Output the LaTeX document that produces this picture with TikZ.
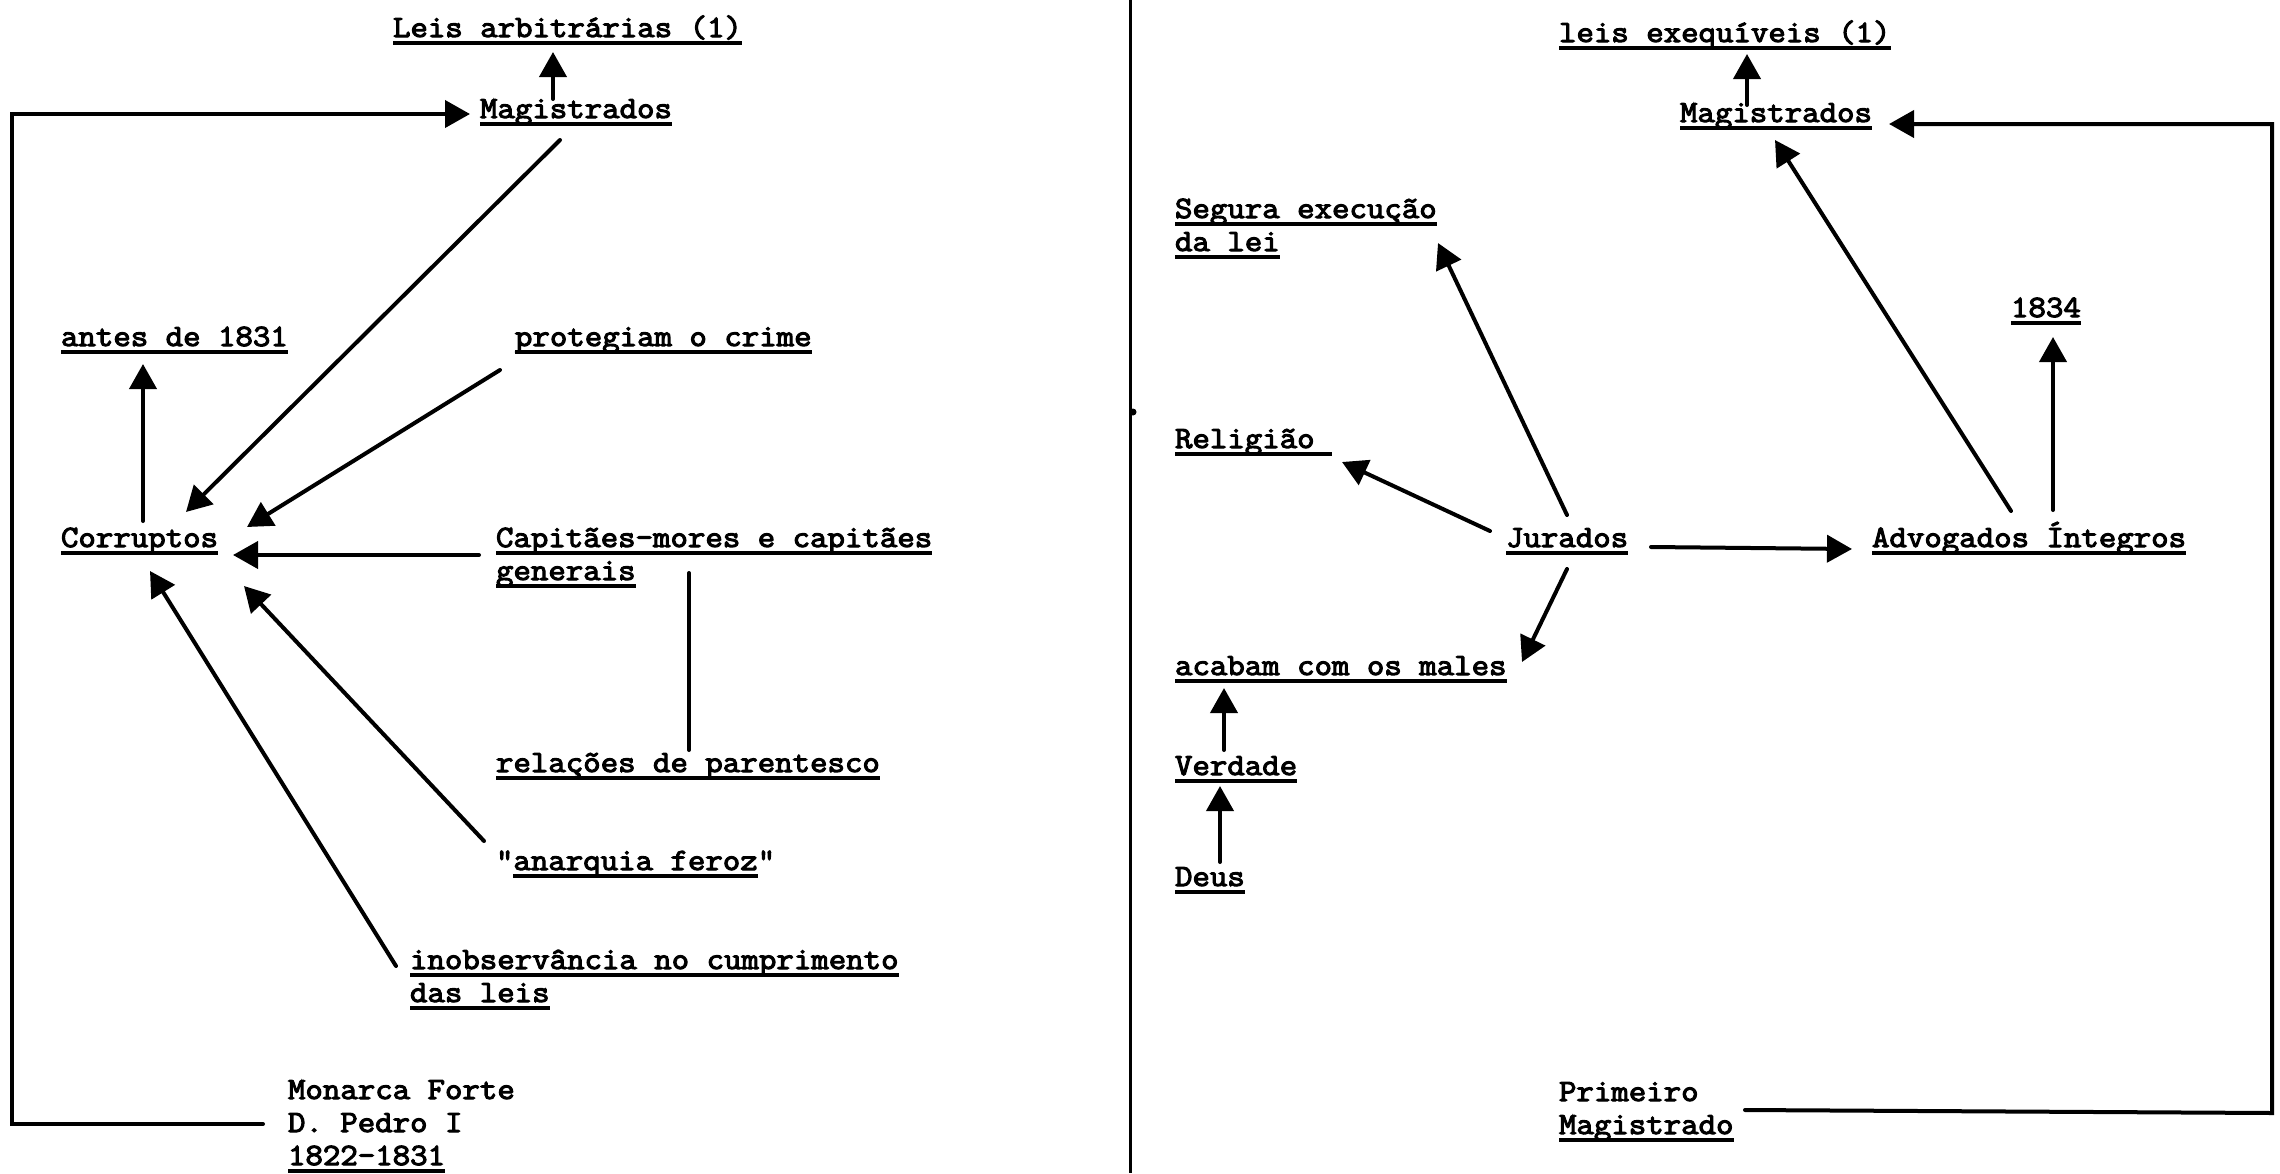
\documentclass[tikz,border=0pt]{standalone}
\usepackage{fontspec}
\newfontfamily\twfont{Latin Modern Mono}[FakeStretch=1.093,FakeBold=3.5]
\usetikzlibrary{arrows.meta}
\newcommand\myul[1]{\setbox0\hbox{#1}\rlap{\rule[-8pt]{\wd0}{4pt}}\box0}
\newcommand\twolines[2]{\vtop{\baselineskip=33pt\lineskiplimit=-100pt\hbox{#1}\hbox{#2}}}
\newcommand\threelines[3]{\vtop{\baselineskip=33pt\lineskiplimit=-100pt\hbox{#1}\hbox{#2}\hbox{#3}}}
\begin{document}
\begin{tikzpicture}[x=1pt,y=-1pt,
  lbl/.style={anchor=base west,inner sep=0pt,outer sep=0pt,font=\twfont\fontsize{31pt}{33pt}\selectfont},
  arr/.style={line width=4pt,line cap=round,-{Triangle[length=25pt,width=27pt]}},
  ln/.style={line width=4pt,line cap=round}]
\useasboundingbox (0,0) rectangle (2280,1173);

% left panel
\node[lbl] (leisA) at (393,37) {\myul{Leis arbitrárias (1)}};
\node[lbl] (magL) at (480,118) {\myul{Magistrados}};
\node[lbl] (antes) at (61,346) {\myul{antes de 1831}};
\node[lbl] (prot) at (515,346) {\myul{protegiam o crime}};
\node[lbl] (corr) at (61,547) {\myul{Corruptos}};
\node[lbl] (capit) at (496,547) {\twolines{\myul{Capitães-mores e capitães}}{\myul{generais}}};
\node[lbl] (rel) at (496,772) {\myul{relações de parentesco}};
\node[lbl] (anar) at (496,870) {"\myul{anarquia feroz}"};
\node[lbl] (inob) at (410,969) {\twolines{\myul{inobservância no cumprimento}}{\myul{das leis}}};
\node[lbl] (mon) at (288,1099) {\threelines{Monarca Forte}{D. Pedro I}{\myul{1822-1831}}};

% right panel
\node[lbl] (leisE) at (1559,42) {\myul{leis exequíveis (1)}};
\node[lbl] (magR) at (1680,122) {\myul{Magistrados}};
\node[lbl] (seg) at (1175,218) {\twolines{\myul{Segura execução}}{\myul{da lei}}};
\node[lbl] (n1834) at (2011,317) {\myul{1834}};
\node[lbl] (relig) at (1175,448) {\myul{Religião\ }};
\node[lbl] (jur) at (1506,547) {\myul{Jurados}};
\node[lbl] (adv) at (1872,547) {\myul{Advogados Íntegros}};
\node[lbl] (acab) at (1175,675) {\myul{acabam com os males}};
\node[lbl] (verd) at (1175,775) {\myul{Verdade}};
\node[lbl] (deus) at (1175,886) {\myul{Deus}};
\node[lbl] (prim) at (1559,1101) {\twolines{Primeiro}{\myul{Magistrado}}};

% divider
\draw[line width=3pt] (1130,0) -- (1130,1173);
\fill (1133,412) circle (3.5);

% left connectors
\draw[arr] ([shift={(73,-19)}]magL.base west) -- ([shift={(160,15)}]leisA.base west);
\draw[arr] ([shift={(-25,25)}]mon.base west) -- ++(-251,0) |- ([shift={(-10,-4)}]magL.base west);
\draw[arr] ([shift={(80,22)}]magL.base west) -- ([shift={(125,-35)}]corr.base west);
\draw[arr] ([shift={(82,-26)}]corr.base west) -- ([shift={(82,18)}]antes.base west);
\draw[arr] ([shift={(-15,24)}]prot.base west) -- ([shift={(186,-20)}]corr.base west);
\draw[arr] ([shift={(-17,8)}]capit.base west) -- ([shift={(172,8)}]corr.base west);
\draw[ln] ([shift={(193,-22)}]rel.base west) -- ([shift={(193,26)}]capit.base west);
\draw[arr] ([shift={(-12,-29)}]anar.base west) -- ([shift={(183,39)}]corr.base west);
\draw[arr] ([shift={(-14,-3)}]inob.base west) -- ([shift={(89,24)}]corr.base west);

% right connectors
\draw[arr] ([shift={(67,-17)}]magR.base west) -- ([shift={(188,12)}]leisE.base west);
\draw[arr] ([shift={(186,9)}]prim.base west) -- ++(527,3) |- ([shift={(209,2)}]magR.base west);
\draw[arr] ([shift={(61,-32)}]jur.base west) -- ([shift={(263,25)}]seg.base west);
\draw[arr] ([shift={(-16,-16)}]jur.base west) -- ([shift={(167,14)}]relig.base west);
\draw[arr] ([shift={(145,0)}]jur.base west) -- ([shift={(-20,2)}]adv.base west);
\draw[arr] ([shift={(139,-36)}]adv.base west) -- ([shift={(95,18)}]magR.base west);
\draw[arr] ([shift={(181,-37)}]adv.base west) -- ([shift={(42,20)}]n1834.base west);
\draw[arr] ([shift={(61,22)}]jur.base west) -- ([shift={(347,-13)}]acab.base west);
\draw[arr] ([shift={(49,-25)}]verd.base west) -- ([shift={(49,13)}]acab.base west);
\draw[arr] ([shift={(45,-24)}]deus.base west) -- ([shift={(45,11)}]verd.base west);
\end{tikzpicture}
\end{document}
